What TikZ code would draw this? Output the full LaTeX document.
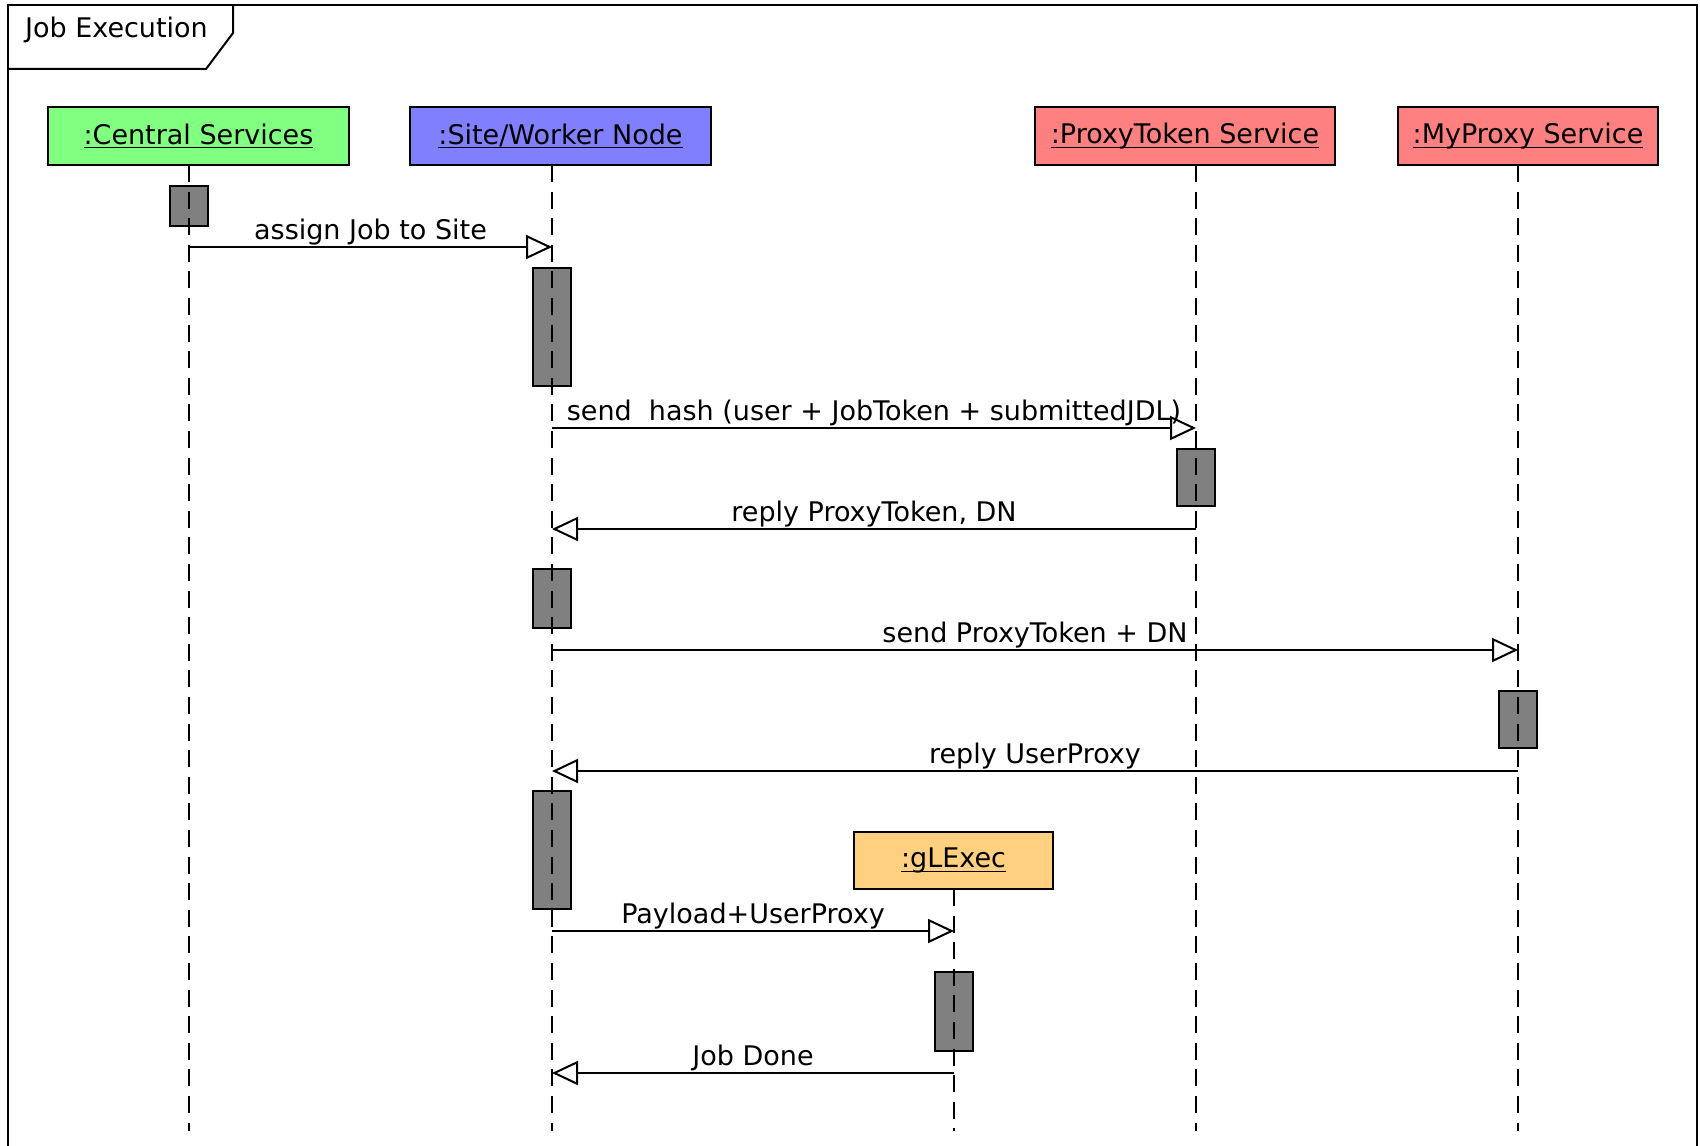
\documentclass[tikz,border=0pt]{standalone}
\usepackage{fontspec}
\setmainfont{DejaVu Sans}
\usepackage{tikz}
\usetikzlibrary{arrows.meta}
\definecolor{csgreen}{RGB}{128,255,128}
\definecolor{swblue}{RGB}{128,128,255}
\definecolor{svcred}{RGB}{255,128,128}
\definecolor{glorange}{RGB}{255,208,128}
\definecolor{actgray}{RGB}{128,128,128}
\newcommand{\seqfont}{\fontsize{13.5}{16}\selectfont}
\newsavebox{\objbox}
\newcommand{\objname}[1]{\sbox{\objbox}{#1}\rlap{\raisebox{-2.2pt}{\rule{\wd\objbox}{0.6pt}}}\usebox{\objbox}}
\tikzset{
  obj/.style={draw, line width=1pt, minimum height=28.5pt, inner sep=0pt, font=\seqfont},
  act/.style={draw, fill=actgray, line width=1pt, minimum width=19pt, inner sep=0pt},
  life/.style={line width=1pt, dash pattern=on 8.5pt off 4.8pt},
  msg/.style={line width=1pt, -{Triangle[open,length=13pt,width=12pt]}},
  msglabel/.style={above, inner sep=0.5pt, font=\seqfont}
}

\begin{document}
\begin{tikzpicture}[x=0.5pt,y=-0.5pt]
  \useasboundingbox (0,0) rectangle (1700,1145);
  % frame
  \draw[line width=1pt] (8,1160) -- (8,5) -- (1697,5) -- (1697,1160);
  \draw[line width=1pt] (8,69) -- (206,69) -- (233,33) -- (233,5);
  \node[font=\seqfont, anchor=west] (title) at (18,30) {Job Execution};

  % objects
  \node[obj, fill=csgreen, minimum width=150.5pt] (CS) at (198.5,136) {\objname{:Central Services}};
  \node[obj, fill=swblue, minimum width=150.5pt] (SW) at (560.5,136) {\objname{:Site/Worker Node}};
  \node[obj, fill=svcred, minimum width=150pt] (PT) at (1185,136) {\objname{:ProxyToken Service}};
  \node[obj, fill=svcred, minimum width=130pt] (MP) at (1528,136) {\objname{:MyProxy Service}};
  \node[obj, fill=glorange, minimum width=99.5pt] (GL) at (953.5,860.5) {\objname{:gLExec}};

  \foreach \l/\x in {cs/189, sw/552, pt/1196, mp/1518}
    \coordinate (\l) at (\x,165);
  \coordinate (gl) at (954,889);

  % activations
  \foreach \l/\y/\h [count=\i] in {cs/206/20pt, sw/327/59pt, pt/477.5/28.5pt, sw/598.5/29.5pt,
                                  mp/719.5/28.5pt, sw/850/59pt, gl/1011.5/39.5pt}
    \node[act, minimum height=\h] (act\i) at (\l |- 0,\y) {};

  % lifelines
  \foreach \l in {cs, sw, pt, mp, gl}
    \draw[life] (\l) -- (\l |- 0,1131);

  % messages
  \foreach \a/\b/\y/\t in {cs/sw/247/{assign Job to Site},
                           sw/pt/428/{send\ \ hash (user + JobToken + submittedJDL)},
                           pt/sw/529/{reply ProxyToken, DN},
                           sw/mp/650/{send ProxyToken + DN},
                           mp/sw/771/{reply UserProxy},
                           sw/gl/931/{Payload+UserProxy},
                           gl/sw/1073/{Job Done}}
    \draw[msg] (\a |- 0,\y) -- (\b |- 0,\y) node[msglabel, midway] {\t};
\end{tikzpicture}
\end{document}
